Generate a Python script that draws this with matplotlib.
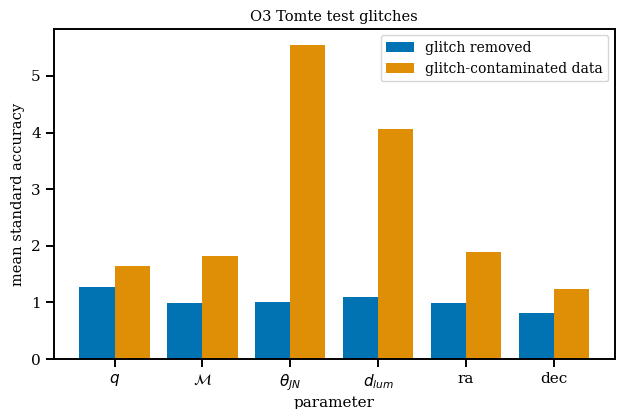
import matplotlib
matplotlib.use("Agg")
import matplotlib.pyplot as plt
import numpy as np

params = [r"$q$", r"$\mathcal{M}$", r"$\theta_{JN}$", r"$d_{lum}$", "ra", "dec"]
glitch_removed = [1.27, 0.99, 1.00, 1.10, 0.99, 0.81]
glitch_contaminated = [1.64, 1.82, 5.55, 4.06, 1.89, 1.24]

plt.rcParams["font.family"] = "DejaVu Serif"
plt.rcParams["axes.linewidth"] = 1.4

fig, ax = plt.subplots(figsize=(6.17, 4.09), dpi=100)
fig.subplots_adjust(left=0.0875, right=0.996, top=0.929, bottom=0.122)

x = np.arange(len(params))
width = 0.4
ax.bar(x - width / 2, glitch_removed, width, color="#0173b2", label="glitch removed")
ax.bar(x + width / 2, glitch_contaminated, width, color="#de8f05", label="glitch-contaminated data")

ax.set_xticks(x)
ax.set_xticklabels(params)
ax.tick_params(axis="both", labelsize=11, length=6, width=1.4)
ax.set_xlabel("parameter", fontsize=11, labelpad=2)
ax.set_ylabel("mean standard accuracy", fontsize=10.5)
ax.set_title("O3 Tomte test glitches", fontsize=10.5)
ax.legend(loc="upper right", fontsize=10, borderaxespad=0.45)

fig.savefig("out.png", dpi=100)
